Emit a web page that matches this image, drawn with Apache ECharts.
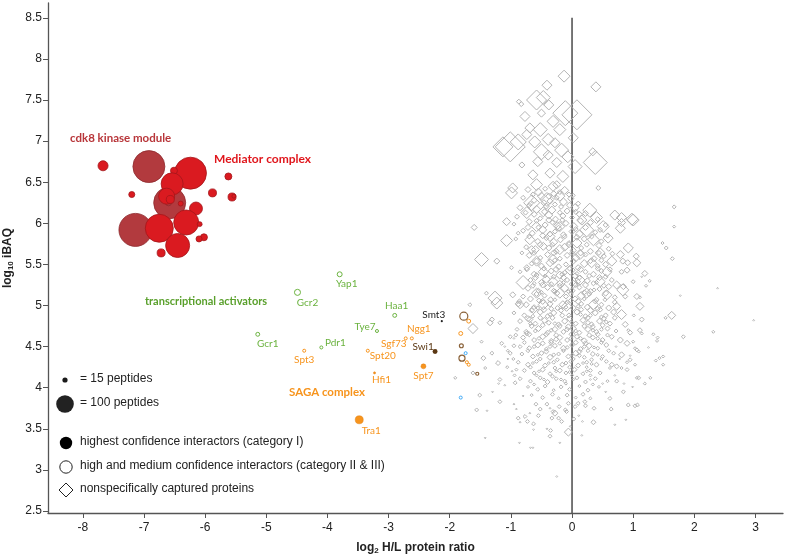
<!DOCTYPE html>
<html><head><meta charset="utf-8">
<script src="https://cdn.jsdelivr.net/npm/echarts@6/dist/echarts.min.js"></script>
<style>html,body{margin:0;padding:0;background:#fff}#c{width:787px;height:555px}</style>
</head><body><div id="c"></div>
<script>
// ---- data: [log2 H/L ratio, log10 iBAQ, peptides]
const xTicks = [-8,-7,-6,-5,-4,-3,-2,-1,0,1,2,3];
const yTicks = [2.5,3,3.5,4,4.5,5,5.5,6,6.5,7,7.5,8,8.5];

const cdk8Module = [[-6.92,6.69,334],[-6.58,6.25,334],[-7.14,5.92,356],[-6.60,6.25,12]];
const mediator = [[-7.67,6.70,33],[-6.24,6.61,334],[-6.51,6.64,16],[-6.54,6.48,158],[-7.20,6.35,12],
  [-6.63,6.33,84],[-6.57,6.29,21],[-6.40,6.24,8],[-6.15,6.18,55],[-5.88,6.37,21],[-5.62,6.57,16],
  [-5.56,6.32,21],[-5.53,6.33,5],[-6.75,5.94,256],[-6.31,6.01,204],[-6.09,5.99,8],[-6.45,5.73,188],
  [-6.72,5.64,21],[-6.02,5.83,16],[-6.10,5.81,12]];

const activatorNames = ['Yap1','Gcr2','Haa1','Tye7','Gcr1','Pdr1'];
const activators = [[-3.80,5.38,8],[-4.49,5.16,12],[-2.90,4.88,5],[-3.19,4.69,3],[-5.14,4.65,5],[-4.10,4.49,3]];

const sagaHollowNames = ['Spt3','Spt20','Sgf73','Ngg1'];
const sagaHollow = [[-4.38,4.45,3],[-3.34,4.45,3],[-2.72,4.60,3],[-2.62,4.60,3]];
const sagaFilledNames = ['Hfi1','Spt7','Tra1'];
const sagaFilled = [[-3.23,4.18,1.5],[-2.43,4.26,8],[-3.48,3.61,21]];
const sagaOther = [[-1.69,4.81,5],[-1.82,4.66,5],[-1.72,4.31,3],[-1.69,4.28,3]];

const swi1 = [[-2.24,4.44,8]];
const smt3 = [[-2.13,4.81,1.5]];
const brownHollow = [[-1.77,4.87,21],[-1.81,4.51,5],[-1.80,4.36,12],[-1.55,4.17,3]];
const blueHollow = [[-1.74,4.42,3],[-1.82,3.88,3]];

const zeroLine = [[0,8.5],[0,2.476]];

const nonspecific = [
 [-0.13,7.79,47],[0.39,7.66,33],[-0.41,7.68,33],[-0.87,7.48,8],[-0.83,7.45,8],[-0.58,7.50,131],[-0.47,7.53,64],
 [-0.38,7.44,33],[-0.77,7.30,33],[-0.50,7.34,21],[-0.11,7.34,204],[0.08,7.32,294],[-0.31,7.24,47],[-0.69,7.16,33],
 [-0.52,7.14,64],[-0.20,7.14,47],[-0.74,7.08,33],[0.02,7.04,33],[-0.61,6.99,47],[-0.39,7.02,47],[-1.01,6.93,294],
 [-1.13,6.93,131],[-0.88,6.99,84],[-0.28,6.98,33],[-0.50,6.87,84],[-0.17,6.89,64],[-0.39,6.83,33],[-0.07,6.81,47],
 [-0.82,6.71,12],[0.34,6.87,21],[0.38,6.74,188],[-0.56,6.75,33],[-0.25,6.74,33],[0.05,6.69,64],[-0.64,6.59,33],
 [-0.36,6.61,33],[-0.15,6.57,47],[0.43,6.43,8],[-0.97,6.43,33],[-0.25,6.47,21],
 [-0.99,6.37,47],[-0.58,6.47,47],[-0.31,6.45,33],[-0.66,6.25,84],[-0.41,6.29,64],[-0.20,6.33,33],[-0.47,6.14,33],
 [-0.74,6.13,47],[0.29,6.16,64],[0.40,6.07,47],[0.98,6.05,47],[0.70,6.10,33],[0.16,6.04,33],[-1.07,6.02,21],
 [-1.60,5.95,12],[-0.58,5.96,33],[-0.20,5.96,33],[0.24,5.92,64],[0.51,5.96,47],[0.79,5.94,33],[-1.07,5.79,47],
 [-0.88,5.88,5],[-0.69,5.80,33],[-0.36,5.84,33],[0.08,5.76,33],[0.35,5.80,47],[0.59,5.82,33],[0.92,5.70,33],
 [-0.66,5.68,21],[-0.47,5.72,21],[-0.20,5.68,33],[0.13,5.62,33],[0.46,5.64,33],[0.79,5.62,21],[-0.82,5.64,5],
 [-1.48,5.56,64],[-1.23,5.54,12],[-0.58,5.54,33],[-0.31,5.56,33],[0.32,5.52,33],[0.65,5.54,33],[0.83,5.54,12],
 [1.06,5.52,21],[-0.99,5.46,5],[-0.74,5.46,12],[-0.47,5.41,33],[-0.03,5.43,33],[0.57,5.41,33],[0.90,5.43,12],
 [-0.80,5.28,64],[-0.31,5.29,33],[0.13,5.31,33],[0.46,5.29,33],[0.73,5.25,21],[1.00,5.29,5],[-1.26,5.09,64],
 [-1.40,5.15,5],[-0.97,5.13,12],[-0.58,5.15,33],[-0.20,5.15,33],[0.24,5.15,33],[0.57,5.13,33],[0.83,5.19,47],
 [1.06,5.11,12],[-1.67,5.01,5],[-0.85,5.01,21],[-0.47,5.01,33],[-0.09,4.99,33],[0.35,5.01,33],[0.73,4.99,21],
 [-1.23,5.03,47],[-0.88,5.02,12],[-1.62,4.72,33],[-1.34,4.79,12],[-1.31,4.83,8],[-1.18,4.79,5],[-1.01,4.62,5],
 [-1.15,4.54,5],[-1.31,4.42,5],[-1.45,4.36,8],[-1.48,4.56,3],[-1.21,4.30,8],[-1.42,4.24,3],[-1.62,4.18,5],
 [-1.91,4.12,3],[-1.18,4.10,5],[-1.51,3.91,5],[-1.18,3.83,5],[-0.93,4.06,5],[-0.91,4.22,3],[-1.01,4.42,5],
 [-0.85,4.50,5],[-0.74,4.66,8],[-0.69,4.83,12],[-0.63,4.95,21],
 [0.81,4.89,33],[0.87,4.77,12],[0.95,4.67,8],[1.11,4.99,21],[1.14,4.83,8],[1.11,4.70,8],[0.79,4.58,12],
 [0.90,4.54,12],[1.06,4.46,5],[0.81,4.40,12],[0.95,4.34,5],[0.73,4.26,8],[0.90,4.22,5],[1.09,4.12,5],
 [0.73,4.08,5],[0.84,3.95,5],[0.62,3.87,5],[0.65,4.28,8],
 [-1.56,3.73,5],[-1.39,3.72,1],[-0.91,3.74,1],[-0.88,3.63,5],[-0.77,3.65,5],[-0.73,3.59,5],[-0.85,3.58,1],
 [-0.69,3.69,1],[-0.63,3.56,5],[-0.63,3.49,1],[-0.55,3.66,5],[-0.52,3.74,5],[-0.59,3.80,5],[-0.41,3.80,5],
 [-0.36,3.75,1],[-0.31,3.71,5],[-0.28,3.69,12],[-0.33,3.63,5],[-0.41,3.50,1],[-0.35,3.48,5],[-0.36,3.41,5],
 [-0.22,3.63,5],[-0.17,3.59,5],[-0.21,3.77,5],[-0.11,3.73,5],[-0.09,3.71,5],[-0.06,3.81,5],[-0.06,3.46,21],
 [-0.20,3.33,1],[-0.86,3.33,1],[-0.68,3.27,1],[-0.64,3.27,1],[-1.42,3.39,1],[-0.25,2.92,1],[-0.03,3.53,1],
 [0.03,3.62,5],[0.11,3.66,1],[0.17,3.59,1],[0.16,3.42,1],[0.05,3.77,5],[0.10,3.81,5],[0.21,3.83,5],[0.22,3.78,5],
 [0.36,3.75,5],[0.35,3.58,8],[0.64,3.74,5],[0.70,3.55,1],[0.88,3.61,1],[0.92,3.79,5],[1.03,3.78,5],[1.07,3.79,5],
 [1.00,6.04,47],[0.81,6.07,33],[0.81,6.01,21],[1.67,6.20,5],[1.67,5.96,3],[1.48,5.76,3],[1.54,5.70,5],
 [1.05,5.60,12],[1.64,5.57,5],[0.91,5.52,12],[0.81,5.41,8],[1.19,5.39,12],[1.27,5.30,3],[1.21,5.24,3],
 [1.14,5.35,1],[0.84,5.23,12],[0.87,5.11,8],[1.11,5.10,3],[1.77,5.12,1],[2.38,5.21,1],[1.01,4.88,3],
 [1.63,4.88,21],[1.53,4.85,3],[0.92,4.70,3],[1.14,4.66,3],[1.33,4.65,3],[1.40,4.61,3],[1.39,4.57,3],
 [1.82,4.62,5],[2.31,4.68,3],[2.97,4.82,1],[1.00,4.56,3],[1.03,4.48,3],[1.09,4.44,3],[1.25,4.49,1],
 [0.95,4.39,1],[1.37,4.33,3],[1.43,4.36,3],[1.49,4.38,3],[1.49,4.28,3],[0.90,4.31,3],[1.03,4.28,3],
 [0.81,4.24,3],[1.28,4.12,3],[1.06,4.12,3],[1.19,4.05,3],[0.99,4.01,1],
 [-0.72,6.41,12],[-0.55,6.38,21],[-0.44,6.42,8],[-0.30,6.36,12],[-0.12,6.40,21],[-0.05,6.35,8],
 [-0.80,6.31,8],[-0.62,6.28,12],[-0.50,6.33,21],[-0.36,6.27,12],[-0.25,6.31,8],[-0.14,6.26,21],[-0.02,6.30,12],[0.10,6.24,8],
 [-0.85,6.19,12],[-0.70,6.22,8],[-0.58,6.17,21],[-0.42,6.21,12],[-0.33,6.16,21],[-0.18,6.20,8],[-0.08,6.15,12],[0.05,6.19,21],
 [-0.90,6.08,8],[-0.62,6.11,12],[-0.52,6.06,8],[-0.38,6.10,21],[-0.27,6.05,12],[-0.15,6.09,12],[0.00,6.07,8],[0.12,6.11,12],
 [-0.95,5.99,5],[-0.70,6.02,12],[-0.44,5.98,12],[-0.32,6.01,8],[-0.24,5.97,21],[-0.10,6.00,12],[0.03,5.96,21],[0.30,6.01,12],[0.55,5.98,8],
 [-0.80,5.91,8],[-0.65,5.88,12],[-0.48,5.92,21],[-0.36,5.87,12],[-0.28,5.90,8],[-0.14,5.86,12],[0.00,5.90,12],[0.12,5.87,21],[0.38,5.89,8],
 [-0.92,5.81,5],[-0.56,5.78,12],[-0.42,5.82,8],[-0.30,5.77,21],[-0.19,5.80,12],[-0.05,5.76,8],[0.20,5.81,12],[0.48,5.78,8],
 [-0.75,5.71,8],[-0.60,5.68,21],[-0.38,5.70,12],[-0.26,5.66,12],[-0.12,5.71,21],[0.02,5.67,12],[0.15,5.70,8],[0.30,5.66,12],[0.60,5.69,8],
 [-0.70,5.61,12],[-0.52,5.58,8],[-0.40,5.62,12],[-0.20,5.57,8],[-0.08,5.61,12],[0.06,5.58,21],[0.22,5.62,8],[0.36,5.57,12],[0.52,5.60,8],
 [-0.66,5.51,8],[-0.50,5.48,12],[-0.36,5.52,21],[-0.22,5.47,12],[-0.10,5.50,8],[0.10,5.46,12],[0.20,5.51,21],[0.42,5.48,8],[0.55,5.50,12],
 [-0.85,5.41,5],[-0.62,5.38,12],[-0.34,5.42,12],[-0.20,5.37,21],[-0.12,5.40,8],[0.05,5.36,12],[0.22,5.41,8],[0.35,5.38,12],[0.48,5.42,8],
 [-0.68,5.31,8],[-0.50,5.28,12],[-0.42,5.32,21],[-0.20,5.27,12],[-0.08,5.31,8],[0.02,5.26,21],[0.25,5.30,12],[0.35,5.27,8],[0.65,5.31,8],
 [-0.72,5.21,12],[-0.55,5.18,8],[-0.40,5.22,12],[-0.28,5.17,8],[-0.12,5.21,21],[0.00,5.18,12],[0.12,5.22,8],[0.30,5.17,12],[0.45,5.20,8],[0.60,5.23,12],
 [-0.80,5.11,8],[-0.68,5.08,12],[-0.45,5.12,8],[-0.35,5.07,12],[-0.10,5.11,8],[0.05,5.08,12],[0.15,5.12,21],[0.40,5.07,8],[0.70,5.10,8],
 [-0.75,5.01,12],[-0.62,4.98,8],[-0.36,5.02,12],[-0.24,4.97,8],[-0.15,5.01,21],[0.02,4.97,12],[0.15,5.02,8],[0.25,4.98,12],[0.48,5.01,8],[0.60,4.97,12],
 [-0.95,4.91,5],[-0.78,4.88,8],[-0.52,4.92,12],[-0.40,4.87,8],[-0.30,4.91,12],[-0.05,4.88,8],[0.08,4.92,12],[0.22,4.87,8],[0.38,4.91,12],[0.55,4.88,8],[0.68,4.92,12],
 [-0.85,4.81,8],[-0.60,4.78,8],[-0.45,4.82,12],[-0.22,4.77,8],[-0.12,4.81,12],[0.06,4.78,8],[0.18,4.82,12],[0.32,4.77,8],[0.45,4.81,12],[0.62,4.78,8],
 [-0.90,4.71,5],[-0.75,4.68,8],[-0.55,4.72,12],[-0.40,4.67,8],[-0.28,4.71,12],[-0.14,4.68,8],[0.02,4.72,12],[0.12,4.67,8],[0.26,4.71,12],[0.40,4.68,8],[0.58,4.72,8],[0.72,4.69,5],
 [-0.80,4.61,8],[-0.62,4.58,8],[-0.48,4.62,12],[-0.34,4.57,8],[-0.20,4.61,12],[-0.08,4.58,8],[0.08,4.62,8],[0.20,4.57,12],[0.34,4.61,8],[0.50,4.58,8],[0.65,4.62,8],
 [-0.95,4.51,5],[-0.70,4.48,8],[-0.56,4.52,12],[-0.42,4.47,5],[-0.28,4.51,8],[-0.14,4.48,12],[0.00,4.52,8],[0.14,4.47,8],[0.28,4.51,12],[0.42,4.48,5],[0.56,4.52,8],
 [-0.82,4.41,5],[-0.64,4.38,8],[-0.50,4.42,8],[-0.36,4.37,12],[-0.22,4.41,5],[-0.06,4.38,8],[0.06,4.42,12],[0.20,4.37,5],[0.34,4.41,8],[0.50,4.38,5],[0.68,4.42,5],
 [-0.88,4.31,5],[-0.72,4.28,8],[-0.58,4.32,5],[-0.44,4.27,8],[-0.30,4.31,5],[-0.16,4.28,8],[-0.02,4.32,5],[0.10,4.27,8],[0.24,4.31,5],[0.40,4.28,8],[0.56,4.32,5],
 [-0.78,4.21,5],[-0.62,4.18,5],[-0.48,4.22,8],[-0.36,4.17,5],[-0.20,4.21,8],[-0.10,4.18,5],[0.04,4.22,8],[0.18,4.17,5],[0.30,4.21,5],[0.46,4.18,5],
 [-0.85,4.11,5],[-0.68,4.08,5],[-0.52,4.12,5],[-0.40,4.07,8],[-0.26,4.11,5],[-0.12,4.08,5],[0.08,4.12,5],[0.22,4.07,5],[0.38,4.11,5],[0.58,4.08,3],
 [-0.72,4.01,3],[-0.56,3.98,5],[-0.44,4.02,5],[-0.30,3.97,3],[-0.18,4.01,5],[-0.04,3.98,5],[0.12,4.02,3],[0.26,3.97,5],[0.44,4.01,3],
 [-0.66,3.91,3],[-0.48,3.88,5],[-0.32,3.92,5],[-0.22,3.87,3],[-0.08,3.91,5],[0.06,3.88,3],[0.18,3.92,5],[0.30,3.87,3],
 [-0.64,6.35,8],[-0.38,6.33,12],[-0.20,6.38,8],[0.02,6.34,5],
 [-0.68,6.24,8],[-0.46,6.25,12],[-0.28,6.23,8],[-0.04,6.22,12],
 [-0.76,6.13,8],[-0.45,6.14,12],[-0.20,6.13,8],[0.06,6.14,8],[0.22,6.12,12],
 [-0.58,6.03,8],[-0.38,6.04,12],[-0.16,6.04,8],[0.14,6.03,12],[0.42,6.05,8],
 [-0.72,5.95,12],[-0.55,5.95,8],[-0.22,5.94,12],[0.06,5.93,8],[0.22,5.95,12],[0.46,5.92,8],
 [-0.70,5.84,8],[-0.48,5.85,12],[-0.12,5.84,8],[0.08,5.83,12],[0.32,5.84,8],[0.58,5.85,8],
 [-0.52,5.74,12],[-0.32,5.74,8],[-0.05,5.74,12],[0.24,5.74,8],[0.44,5.73,12],
 [-0.62,5.64,8],[-0.30,5.64,12],[0.00,5.64,8],[0.14,5.64,12],[0.44,5.64,8],[0.66,5.63,8],
 [-0.58,5.54,12],[-0.28,5.55,8],[0.02,5.54,12],[0.30,5.54,8],[0.48,5.55,8],
 [-0.74,5.44,8],[-0.46,5.45,8],[-0.26,5.44,12],[-0.04,5.45,8],[0.14,5.44,12],[0.42,5.45,8],[0.62,5.44,8],
 [-0.60,5.34,12],[-0.30,5.35,8],[-0.14,5.34,12],[0.12,5.34,8],[0.45,5.34,12],[0.55,5.35,8],
 [-0.64,5.24,8],[-0.48,5.25,12],[-0.20,5.24,8],[0.06,5.25,8],[0.22,5.25,12],[0.52,5.24,8],
 [-0.58,5.14,8],[-0.25,5.15,12],[-0.02,5.14,8],[0.28,5.14,8],[0.55,5.15,12],
 [-0.86,5.05,8],[-0.48,5.05,12],[-0.08,5.04,8],[0.10,5.05,12],[0.38,5.05,8],[0.70,5.04,8],
 [-0.66,4.94,8],[-0.46,4.95,12],[-0.18,4.94,8],[0.15,4.95,8],[0.30,4.94,12],[0.46,4.95,8],
 [-0.72,4.84,12],[-0.52,4.85,8],[-0.32,4.85,8],[-0.04,4.84,12],[0.26,4.85,8],[0.52,4.84,8],[0.70,4.85,8],
 [-0.66,4.75,8],[-0.48,4.76,8],[-0.20,4.75,8],[-0.06,4.74,12],[0.20,4.75,8],[0.34,4.74,8],[0.50,4.76,8],
 [-0.92,4.64,5],[-0.70,4.65,8],[-0.42,4.65,8],[-0.26,4.64,8],[0.00,4.65,12],[0.28,4.64,8],[0.42,4.65,8],[0.58,4.64,5],
 [-0.78,4.55,5],[-0.48,4.54,8],[-0.34,4.55,8],[-0.20,4.54,5],[0.06,4.55,8],[0.22,4.54,8],[0.48,4.55,5],
 [-1.05,4.45,3],[-0.72,4.45,5],[-0.42,4.44,8],[-0.14,4.45,5],[0.12,4.44,8],[0.26,4.45,5],[0.60,4.45,5],
 [-0.96,4.35,3],[-0.52,4.35,5],[-0.24,4.34,5],[0.02,4.35,5],[0.32,4.34,5],[0.48,4.35,3],
 [-1.06,4.25,3],[-0.68,4.25,5],[-0.28,4.24,5],[-0.04,4.25,5],[0.24,4.25,3],[0.62,4.24,3],
 [-0.94,4.15,3],[-0.58,4.15,3],[-0.32,4.14,5],[0.00,4.15,3],[0.30,4.15,3],
 [-1.10,4.03,1],[-0.62,4.04,3],[-0.10,4.05,3],[0.34,4.04,3],[0.50,4.05,1],
 [-0.58,5.37,8],[-0.44,5.36,5],[-0.16,5.38,8],[0.08,5.39,5],[0.28,5.36,8],
 [-0.62,5.27,5],[-0.34,5.26,8],[-0.14,5.28,5],[0.10,5.29,8],[0.40,5.28,5],
 [-0.50,5.16,5],[-0.30,5.18,8],[-0.06,5.17,5],[0.20,5.16,8],[0.36,5.19,5],
 [-0.54,5.06,8],[-0.28,5.07,5],[-0.02,5.06,8],[0.20,5.08,5],[0.54,5.07,5],
 [-0.56,4.97,5],[-0.34,4.96,8],[-0.10,4.98,5],[0.10,4.99,5],[0.42,4.96,8],
 [-0.64,4.87,5],[-0.36,4.89,5],[-0.16,4.88,8],[0.14,4.89,5],[0.30,4.88,5],[0.48,4.86,5],
 [-0.68,4.78,5],[-0.38,4.79,8],[-0.28,4.78,5],[0.00,4.79,5],[0.26,4.79,8],[0.56,4.80,5],
 [-0.60,4.69,5],[-0.34,4.70,5],[-0.08,4.71,8],[0.06,4.69,5],[0.34,4.70,5],[0.48,4.71,5],
 [-0.54,4.60,5],[-0.26,4.59,8],[-0.02,4.60,5],[0.14,4.60,5],[0.42,4.60,5],
 [-0.62,4.50,5],[-0.36,4.50,5],[-0.08,4.49,5],[0.20,4.50,5],[0.36,4.49,3],
 [-0.56,4.40,3],[-0.30,4.40,5],[0.00,4.40,3],[0.12,4.39,5],[0.42,4.40,3],
 [-0.64,4.30,3],[-0.38,4.30,3],[-0.10,4.30,5],[0.18,4.30,3],[0.32,4.29,3],
 [-0.54,4.20,3],[-0.26,4.20,3],[-0.04,4.19,3],[0.24,4.20,3],
 [-0.46,4.10,3],[-0.18,4.10,3],[0.02,4.10,3],[0.30,4.10,1],
 [-0.95,4.60,1],[-1.10,4.50,1],[-1.05,4.35,1],[-0.98,4.20,1],[-1.20,4.05,1],[-1.30,3.95,1],[0.72,4.50,1],
 [0.78,4.35,1],[0.70,4.15,1],[0.85,4.05,1],[0.55,3.95,1],[-0.80,3.90,1],[-0.95,3.80,1]
];

// ---- presentation
const labelOffsets = {Yap1:[7,10],Gcr2:[10,10],Haa1:[2,-10],Tye7:[-12,-4],Gcr1:[10,9],Pdr1:[14,-5],
  Spt3:[0,9],Spt20:[15,5],Sgf73:[-12,5],Ngg1:[7,-10],Hfi1:[7,7],Spt7:[0,9],Tra1:[12,11],Swi1:[-12,-5],Smt3:[-8,-6]};
const sizeFn = d => 1.75*Math.sqrt(d[2]);
const LBL = 'Lato, "Open Sans", sans-serif';
const AX = '"Liberation Sans", Arial, sans-serif';

function labelled(points, names, color){
  return points.map((p,i)=>({value:p, label:{show:true, formatter:names[i], position:'inside',
    offset:labelOffsets[names[i]], color:color, fontSize:10, fontFamily:LBL}}));
}

const GREEN='#6ab23e', ORANGE='#f7941d', BROWN='#8a6239', DBROWN='#5b3814', BLUE='#3fa9f5';

const chart = echarts.init(document.getElementById('c'), null, {renderer:'canvas'});
chart.setOption({
  animation:false,
  grid:{left:48, right:4, top:3, bottom:42, containLabel:false, outerBoundsMode:'none'},
  xAxis:{type:'value', min:-8.57, max:3.45, splitLine:{show:false},
    axisLine:{onZero:false, lineStyle:{color:'#555', width:1.3}},
    axisTick:{customValues:xTicks, length:5, lineStyle:{color:'#555'}},
    axisLabel:{customValues:xTicks, color:'#222', fontSize:12, fontFamily:AX, margin:9},
    name:'{b|log}{s|2}{b| H/L protein ratio}', nameLocation:'middle', nameGap:28,
    nameTextStyle:{rich:{b:{fontSize:12, fontWeight:'bold', fontFamily:AX, color:'#222'},
      s:{fontSize:8, fontWeight:'bold', fontFamily:AX, color:'#222', padding:[6,0,0,0]}}}},
  yAxis:{type:'value', min:2.476, max:8.68, splitLine:{show:false},
    axisLine:{show:true, onZero:false, lineStyle:{color:'#555', width:1.3}},
    axisTick:{show:true, customValues:yTicks, length:5, lineStyle:{color:'#555'}},
    axisLabel:{customValues:yTicks, color:'#222', fontSize:12, fontFamily:AX, margin:6},
    name:'{b|log}{s|10}{b| iBAQ}', nameLocation:'middle', nameGap:22,
    nameTextStyle:{rich:{b:{fontSize:12, fontWeight:'bold', fontFamily:AX, color:'#222'},
      s:{fontSize:8, fontWeight:'bold', fontFamily:AX, color:'#222', padding:[6,0,0,0]}}}},
  series:[
    {type:'line', data:zeroLine, symbol:'none', lineStyle:{color:'#555', width:1.6}, silent:true, z:1},
    {type:'scatter', data:nonspecific, symbol:'diamond', symbolSize:sizeFn,
      itemStyle:{color:'rgba(255,255,255,0)', borderColor:'#b3b3b3', borderWidth:1, opacity:1}, z:2},
    {type:'scatter', data:cdk8Module, symbol:'circle', symbolSize:sizeFn,
      itemStyle:{color:'#b23a3e', borderColor:'#8e2b2e', borderWidth:0.8, opacity:1}, z:3},
    {type:'scatter', data:mediator, symbol:'circle', symbolSize:sizeFn,
      itemStyle:{color:'#da1a20', borderColor:'#a3171b', borderWidth:0.8, opacity:1}, z:4},
    {type:'scatter', data:labelled(activators, activatorNames, GREEN), symbol:'circle', symbolSize:sizeFn,
      itemStyle:{color:'#fff', borderColor:GREEN, borderWidth:1, opacity:1}, z:5},
    {type:'scatter', data:labelled(sagaHollow, sagaHollowNames, ORANGE), symbol:'circle', symbolSize:sizeFn,
      itemStyle:{color:'#fff', borderColor:ORANGE, borderWidth:1, opacity:1}, z:5},
    {type:'scatter', data:sagaOther, symbol:'circle', symbolSize:sizeFn,
      itemStyle:{color:'#fff', borderColor:ORANGE, borderWidth:1, opacity:1}, z:5},
    {type:'scatter', data:labelled(sagaFilled, sagaFilledNames, ORANGE), symbol:'circle', symbolSize:sizeFn,
      itemStyle:{color:ORANGE, borderColor:'#e07f10', borderWidth:0.5, opacity:1}, z:5},
    {type:'scatter', data:brownHollow, symbol:'circle', symbolSize:sizeFn,
      itemStyle:{color:'rgba(255,255,255,0)', borderColor:BROWN, borderWidth:1.2, opacity:1}, z:5},
    {type:'scatter', data:blueHollow, symbol:'circle', symbolSize:sizeFn,
      itemStyle:{color:'#fff', borderColor:BLUE, borderWidth:1, opacity:1}, z:5},
    {type:'scatter', data:labelled(swi1, ['Swi1'], DBROWN), symbol:'circle', symbolSize:sizeFn,
      itemStyle:{color:DBROWN, opacity:1}, z:5},
    {type:'scatter', data:labelled(smt3, ['Smt3'], '#222'), symbol:'circle', symbolSize:sizeFn,
      itemStyle:{color:'#222', opacity:1}, z:5}
  ],
  graphic:[
    {type:'text', left:70, top:132, style:{text:'cdk8 kinase module', fill:'#b8363a', font:'bold 11.5px '+LBL}},
    {type:'text', left:214, top:153, style:{text:'Mediator complex', fill:'#e0161c', font:'bold 12px '+LBL}},
    {type:'text', left:145, top:296, style:{text:'transcriptional activators', fill:'#5aa02c', font:'bold 11px '+LBL}},
    {type:'text', left:289, top:386, style:{text:'SAGA complex', fill:ORANGE, font:'bold 11.5px '+LBL}},
    {type:'circle', shape:{cx:65, cy:380, r:2.6}, style:{fill:'#1a1a1a'}},
    {type:'text', left:80, top:373, style:{text:'= 15 peptides', fill:'#222', font:'12px '+AX}},
    {type:'circle', shape:{cx:65, cy:404, r:8.8}, style:{fill:'#222'}},
    {type:'text', left:80, top:397, style:{text:'= 100 peptides', fill:'#222', font:'12px '+AX}},
    {type:'circle', shape:{cx:66, cy:443, r:6.2}, style:{fill:'#000'}},
    {type:'text', left:80, top:436, style:{text:'highest confidence interactors (category I)', fill:'#222', font:'12px '+AX}},
    {type:'circle', shape:{cx:66, cy:467, r:6.2}, style:{fill:'#fff', stroke:'#222', lineWidth:1}},
    {type:'text', left:80, top:460, style:{text:'high and medium confidence interactors (category II & III)', fill:'#222', font:'12px '+AX}},
    {type:'polygon', shape:{points:[[66,483],[73,490],[66,497],[59,490]]}, style:{fill:'#fff', stroke:'#222', lineWidth:1}},
    {type:'text', left:80, top:483, style:{text:'nonspecifically captured proteins', fill:'#222', font:'12px '+AX}}
  ]
});
</script></body></html>
